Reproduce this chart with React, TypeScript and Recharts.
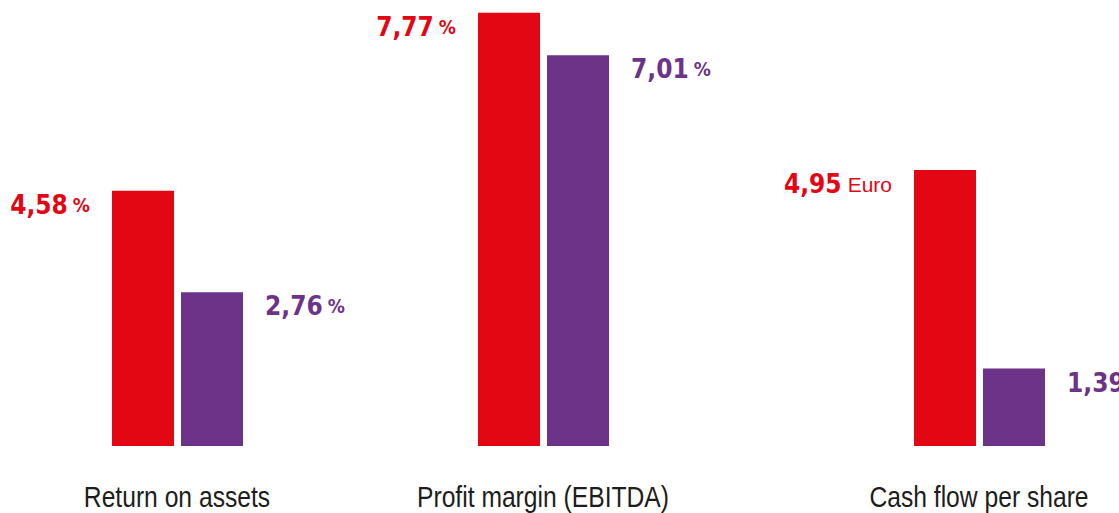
import React from "react";
import { BarChart, Bar, XAxis, YAxis, LabelList } from "recharts";

// Key figures: current year (red) vs. prior year (purple)
const categories = ["Return on assets", "Profit margin (EBITDA)", "Cash flow per share"];
const currentValues = [4.58, 7.77, 4.95];
const priorValues = [2.76, 7.01, 1.39];
const units = ["%", "%", "Euro"];

const RED = "#e30613";
const PURPLE = "#6c3388";
const NUM_FONT = "'DejaVu Sans Condensed', 'DejaVu Sans', sans-serif";
const UNIT_FONT = "'DejaVu Sans Condensed', sans-serif";
const TEXT_FONT = "'Liberation Sans', Arial, sans-serif";

// group centres in the picture are not evenly spaced
const groupCenters = [177, 543, 979];
const CHART_W = 400;
const CHART_H = 513;

const fmt = (v: number) => v.toFixed(2).replace(".", ",");

const ValueLabel = (props: any) => {
    const { x, y, width, value, side, unit, color } = props;
    const isLeft = side === "left";
    const tx = isLeft ? x - 22 : x + width + 22;
    const isPct = unit === "%";
    return (
        <text
            x={tx}
            y={y + 14}
            textAnchor={isLeft ? "end" : "start"}
            dominantBaseline="central"
            fill={color}
        >
            <tspan fontFamily={NUM_FONT} fontWeight={700} fontSize={26}>
                {fmt(value)}
            </tspan>
            <tspan
                fontFamily={isPct ? UNIT_FONT : TEXT_FONT}
                fontWeight={isPct ? 700 : 400}
                fontSize={isPct ? 19 : 21}
                dx={isPct ? 5 : 6}
            >
                {unit}
            </tspan>
        </text>
    );
};

const CategoryTick = (props: any) => {
    const { x, y, payload } = props;
    return (
        <g transform={`translate(${x},${y + 61}) scale(0.85,1)`}>
            <text
                x={0}
                y={0}
                textAnchor="middle"
                fill="#1d1d1b"
                fontFamily={TEXT_FONT}
                fontSize={29}
            >
                {payload.value}
            </text>
        </g>
    );
};

const Group: React.FC<{ index: number }> = ({ index }) => {
    const data = [
        {
            name: categories[index],
            current: currentValues[index],
            prior: priorValues[index],
        },
    ];
    const unit = units[index];
    return (
        <div
            style={{
                position: "absolute",
                top: 0,
                left: groupCenters[index] - CHART_W / 2,
            }}
        >
            <BarChart
                width={CHART_W}
                height={CHART_H}
                data={data}
                margin={{ top: 0, right: 0, bottom: 0, left: 0 }}
                barGap={7}
            >
                <XAxis
                    dataKey="name"
                    axisLine={false}
                    tickLine={false}
                    tickSize={0}
                    tickMargin={0}
                    height={67}
                    interval={0}
                    tick={<CategoryTick />}
                />
                <YAxis hide domain={[0, 8]} />
                <Bar dataKey="current" fill={RED} barSize={62} isAnimationActive={false}>
                    <LabelList
                        dataKey="current"
                        content={<ValueLabel side="left" unit={unit} color={RED} />}
                    />
                </Bar>
                <Bar dataKey="prior" fill={PURPLE} barSize={62} isAnimationActive={false}>
                    <LabelList
                        dataKey="prior"
                        content={<ValueLabel side="right" unit={unit} color={PURPLE} />}
                    />
                </Bar>
            </BarChart>
        </div>
    );
}
;

export default function App() {
    return (
        <div
            style={{
                position: "absolute",
                left: 0,
                top: 0,
                width: 1119,
                height: 513,
                overflow: "hidden",
                background: "#fff",
            }}
        >
            {categories.map((_, i) => (
                <Group key={i} index={i} />
            ))}
        </div>
    );
}
